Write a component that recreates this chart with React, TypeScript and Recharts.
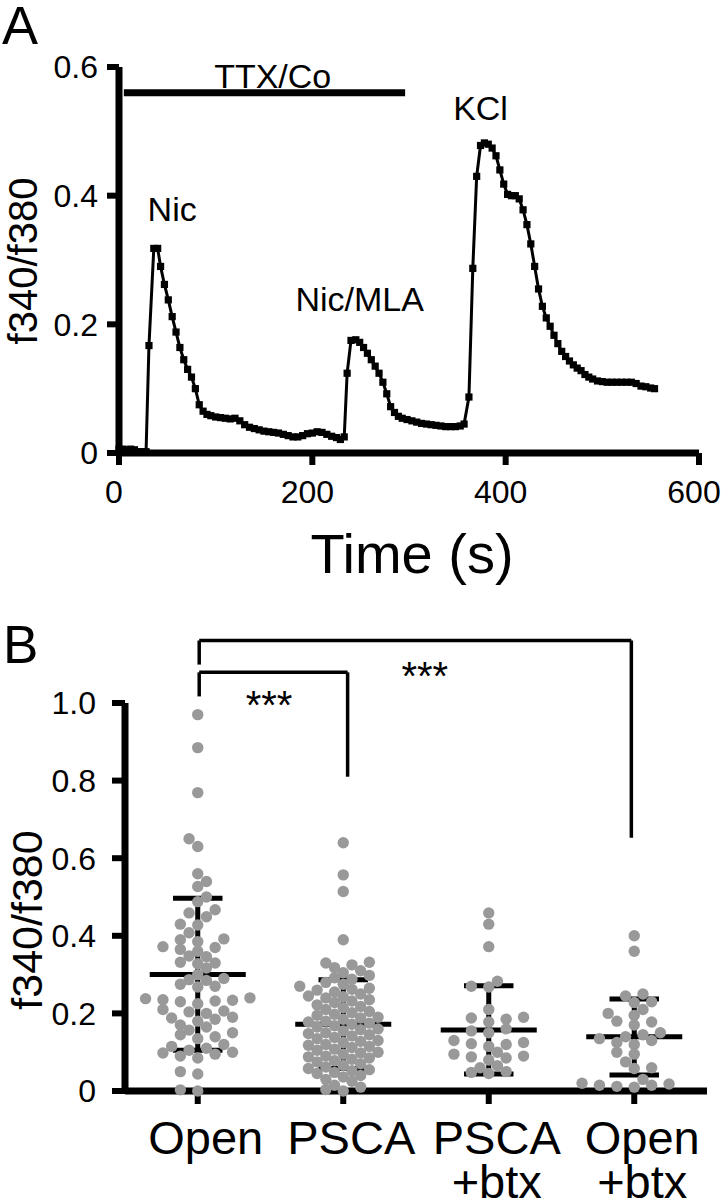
import React from 'react';
import {
  LineChart, Line, XAxis, YAxis, ReferenceLine, ReferenceDot,
  ScatterChart, Scatter,
} from 'recharts';

const FONT = '"Liberation Sans", Arial, Helvetica, sans-serif';

// ---------- Panel A: f340/f380 trace ----------
const traceTime = [
  0, 4, 8, 12, 16, 20, 24, 28, 31, 36,
  40, 43, 47, 51, 55, 59, 63, 67, 71, 75,
  79, 83, 87, 91, 95, 100, 105, 110, 115, 120,
  125, 130, 135, 140, 145, 150, 155, 160, 165, 170,
  175, 180, 185, 190, 195, 200, 205, 210, 215, 220,
  225, 229, 233, 236, 240, 245, 249, 253, 257, 261,
  265, 269, 273, 277, 281, 285, 289, 293, 298, 303,
  308, 313, 318, 323, 328, 333, 338, 343, 348, 353,
  357, 362, 366, 370, 374, 378, 382, 386, 390, 394,
  398, 402, 406, 410, 414, 418, 422, 426, 430, 434,
  438, 442, 446, 450, 454, 458, 462, 466, 470, 474,
  478, 482, 486, 490, 495, 500, 505, 510, 515, 520,
  525, 530, 535, 540, 545, 550, 554,
];
const traceRatio = [
  0.006, 0.006, 0.005, 0.006, 0.005, 0.002, 0.002, 0.002, 0.167, 0.318,
  0.318, 0.29, 0.262, 0.238, 0.212, 0.188, 0.164, 0.145, 0.13, 0.118,
  0.1, 0.075, 0.065, 0.06, 0.058, 0.056, 0.055, 0.054, 0.053, 0.054,
  0.05, 0.044, 0.04, 0.038, 0.036, 0.034, 0.033, 0.032, 0.031, 0.029,
  0.027, 0.025, 0.025, 0.027, 0.03, 0.031, 0.033, 0.032, 0.029, 0.026,
  0.024, 0.021, 0.025, 0.124, 0.175, 0.176, 0.172, 0.164, 0.155, 0.145,
  0.135, 0.124, 0.11, 0.092, 0.072, 0.063, 0.057, 0.054, 0.052, 0.05,
  0.048, 0.046, 0.045, 0.044, 0.043, 0.042, 0.041, 0.041, 0.041, 0.042,
  0.045, 0.087, 0.287, 0.43, 0.478, 0.482, 0.48, 0.474, 0.462, 0.44,
  0.418, 0.402, 0.4, 0.4, 0.395, 0.378, 0.355, 0.325, 0.29, 0.255,
  0.228, 0.21, 0.197, 0.183, 0.17, 0.158, 0.15, 0.143, 0.137, 0.132,
  0.128, 0.122, 0.118, 0.115, 0.112, 0.111, 0.11, 0.11, 0.11, 0.11,
  0.11, 0.11, 0.108, 0.104, 0.103, 0.101, 0.1,
];
const timeTicks = [0, 200, 400, 600];
const ratioTicksA = [0, 0.2, 0.4, 0.6];
const ttxBar = { start: 5, end: 296, level: 0.56 };
const traceLabels = [
  { text: 'TTX/Co', t: 159, level: 0.586 },
  { text: 'Nic', t: 55, level: 0.38 },
  { text: 'Nic/MLA', t: 249, level: 0.24 },
  { text: 'KCl', t: 374, level: 0.536 },
];

// ---------- Panel B: scatter dot plot ----------
const groupLabelLines = [['Open'], ['PSCA'], ['PSCA', '+btx'], ['Open', '+btx']];
const openValues = [
  0.97, 0.885, 0.769, 0.65, 0.63, 0.56, 0.54, 0.527, 0.5, 0.488,
  0.467, 0.459, 0.449, 0.43, 0.428, 0.408, 0.392, 0.39, 0.385, 0.372,
  0.37, 0.365, 0.36, 0.348, 0.346, 0.332, 0.33, 0.328, 0.317, 0.3,
  0.29, 0.287, 0.285, 0.275, 0.27, 0.268, 0.24, 0.238, 0.235, 0.234,
  0.232, 0.23, 0.225, 0.21, 0.206, 0.204, 0.2, 0.19, 0.188, 0.185,
  0.18, 0.17, 0.165, 0.157, 0.15, 0.145, 0.14, 0.135, 0.12, 0.115,
  0.11, 0.105, 0.1, 0.098, 0.095, 0.09, 0.085, 0.05, 0.044, 0.003, 0.0,
];
const pscaValues = [
  0.64, 0.557, 0.514, 0.39,
  0.332, 0.33, 0.325, 0.318, 0.31,
  0.305, 0.298, 0.292, 0.288,
  0.28, 0.275, 0.27, 0.265, 0.262, 0.26,
  0.255, 0.25, 0.245, 0.243, 0.24, 0.235, 0.232,
  0.228, 0.222, 0.218, 0.215, 0.21, 0.205, 0.202,
  0.198, 0.195, 0.19, 0.188, 0.185, 0.18, 0.178, 0.175, 0.172,
  0.168, 0.165, 0.16, 0.158, 0.155, 0.15, 0.148, 0.145, 0.142,
  0.138, 0.135, 0.13, 0.128, 0.125, 0.12, 0.118, 0.115, 0.112,
  0.108, 0.105, 0.1, 0.098, 0.095, 0.09, 0.088, 0.085, 0.082,
  0.078, 0.075, 0.07, 0.066, 0.062, 0.058, 0.055, 0.052,
  0.048, 0.045, 0.04, 0.036, 0.03, 0.025,
  0.015, 0.01, 0.004, 0.0,
];
const pscaBtxValues = [
  0.459, 0.43, 0.372, 0.283, 0.27, 0.268, 0.21, 0.19, 0.188, 0.185,
  0.178, 0.16, 0.155, 0.15, 0.13, 0.125, 0.122, 0.12, 0.115, 0.1,
  0.095, 0.09, 0.088, 0.085, 0.08, 0.065, 0.06, 0.05, 0.048, 0.045,
];
const openBtxValues = [
  0.4, 0.36, 0.25, 0.245, 0.23, 0.228, 0.21, 0.2, 0.195, 0.18,
  0.178, 0.17, 0.15, 0.145, 0.14, 0.135, 0.13, 0.125, 0.12, 0.1,
  0.095, 0.075, 0.06, 0.058, 0.03, 0.02, 0.018, 0.015, 0.015, 0.012, 0.01,
];
const groupMeans = [0.3, 0.172, 0.157, 0.14];
const groupSdHigh = [0.497, 0.287, 0.271, 0.237];
const groupSdLow = [0.105, 0.058, 0.044, 0.041];
const ratioTicksB = [0, 0.2, 0.4, 0.6, 0.8, 1.0];
const sigBrackets = [
  { from: 0.01, to: 1.03, top: 1.079, leftBottom: 1.017, rightBottom: 0.81, starsX: 0.49, starsY: 0.996 },
  { from: 0.01, to: 2.98, top: 1.161, leftBottom: 1.099, rightBottom: 0.653, starsX: 1.56, starsY: 1.071 },
];

// beeswarm layout (pixel scale of panel B plot)
const PX_PER_CAT = 145.5;
const PX_PER_UNIT = 387.5;
const DOT_R = 5.7;

function swarm(values: number[], center: number) {
  const step = 8.7;
  const minD = 9.6;
  const placed: { x: number; y: number }[] = [];
  const sorted = [...values].sort((a, b) => a - b);
  return sorted.map((v, idx) => {
    const py = v * PX_PER_UNIT;
    const flip = idx % 2 === 0 ? 1 : -1;
    let off = 0;
    for (let k = 0; k < 40; k++) {
      const cand = k === 0 ? 0 : (k % 2 === 1 ? 1 : -1) * flip * Math.ceil(k / 2) * step;
      const ok = placed.every(p => (p.x - cand) ** 2 + (p.y - py) ** 2 >= minD * minD);
      if (ok) { off = cand; break; }
    }
    placed.push({ x: off, y: py });
    return { x: center + off / PX_PER_CAT, y: v };
  });
}

const dotData = [
  ...swarm(openValues, 0),
  ...swarm(pscaValues, 1),
  ...swarm(pscaBtxValues, 2),
  ...swarm(openBtxValues, 3),
];

const traceData = traceTime.map((t, i) => ({ t, v: traceRatio[i] }));

const axisStyle = { stroke: '#000', strokeWidth: 7 };
const tickStyle = { stroke: '#000', strokeWidth: 6 };
const fmtRatio = (v: number) => (v === 0 ? '0' : v.toFixed(1));

const SquareDot = (props: any) => {
  const { cx, cy, index } = props;
  return <rect key={`sq-${index}`} x={cx - 3.6} y={cy - 3.6} width={7.2} height={7.2} fill="#000" />;
};

const GrayDot = (props: any) => (
  <circle cx={props.cx} cy={props.cy} r={DOT_R} fill="#999999" />
);

const TimeTick = (props: any) => {
  const { x, y, payload } = props;
  return (
    <text x={x - 5} y={y} dy="0.71em" textAnchor="middle" fontSize={32} fill="#000">{payload.value}</text>
  );
};

const CategoryTick = (props: any) => {
  const { x, y, payload } = props;
  const lines = groupLabelLines[payload.value] || [];
  return (
    <text x={x + 8} y={y + 50} textAnchor="middle" fontSize={47} fill="#000">
      {lines.map((l, i) => (
        <tspan key={i} x={x + 8} dy={i === 0 ? 0 : 44}>{l}</tspan>
      ))}
    </text>
  );
};

export default function App() {
  return (
    <div style={{ position: 'absolute', left: 0, top: 0, width: 722, height: 1200, background: '#fff', fontFamily: FONT }}>
      {/* Panel A */}
      <div style={{ position: 'absolute', left: 0, top: 0 }}>
        <LineChart width={722} height={600} data={traceData} margin={{ top: 67, right: 23, bottom: 47, left: 0 }}>
          <XAxis
            type="number" dataKey="t" domain={[0, 600]} ticks={timeTicks} height={100}
            axisLine={axisStyle} tickLine={tickStyle} tickSize={12} tickMargin={15}
            tick={(p: any) => <TimeTick {...p} />}
          />
          <YAxis
            type="number" domain={[0, 0.6]} ticks={ratioTicksA} width={119}
            axisLine={axisStyle} tickLine={tickStyle} tickSize={12} tickMargin={9}
            tick={{ fill: '#000', fontSize: 32 }} tickFormatter={fmtRatio}
          />
          <ReferenceLine
            segment={[{ x: ttxBar.start, y: ttxBar.level }, { x: ttxBar.end, y: ttxBar.level }]}
            stroke="#000" strokeWidth={7}
          />
          <Line type="linear" dataKey="v" stroke="#000" strokeWidth={3} dot={SquareDot} isAnimationActive={false} />
          {traceLabels.map(l => (
            <ReferenceDot
              key={l.text} x={l.t} y={l.level} r={0} fill="none" stroke="none" ifOverflow="visible"
              label={{ value: l.text, position: 'center', fontSize: 34, fill: '#000' }}
            />
          ))}
        </LineChart>
      </div>

      {/* Panel B */}
      <div style={{ position: 'absolute', left: 0, top: 600 }}>
        <ScatterChart width={722} height={600} margin={{ top: 103, right: 15, bottom: 0, left: 0 }}>
          <XAxis
            type="number" dataKey="x" domain={[-0.5, 3.5]} ticks={[0, 1, 2, 3]} height={109}
            axisLine={axisStyle} tickLine={tickStyle} tickSize={13} tickMargin={0}
            tick={(p: any) => <CategoryTick {...p} />}
          />
          <YAxis
            type="number" dataKey="y" domain={[0, 1]} ticks={ratioTicksB} width={125}
            axisLine={axisStyle} tickLine={tickStyle} tickSize={13} tickMargin={16}
            tick={{ fill: '#000', fontSize: 32 }} tickFormatter={fmtRatio}
          />
          <Scatter data={dotData} shape={GrayDot} isAnimationActive={false} />
          {groupMeans.map((m, i) => (
            <React.Fragment key={`stat-${i}`}>
              <ReferenceLine segment={[{ x: i - 0.33, y: m }, { x: i + 0.33, y: m }]} stroke="#000" strokeWidth={5} />
              <ReferenceLine segment={[{ x: i, y: groupSdLow[i] }, { x: i, y: groupSdHigh[i] }]} stroke="#000" strokeWidth={5} />
              <ReferenceLine segment={[{ x: i - 0.17, y: groupSdHigh[i] }, { x: i + 0.17, y: groupSdHigh[i] }]} stroke="#000" strokeWidth={5} />
              <ReferenceLine segment={[{ x: i - 0.17, y: groupSdLow[i] }, { x: i + 0.17, y: groupSdLow[i] }]} stroke="#000" strokeWidth={5} />
            </React.Fragment>
          ))}
          {sigBrackets.map((b, i) => (
            <React.Fragment key={`br-${i}`}>
              <ReferenceLine segment={[{ x: b.from, y: b.leftBottom }, { x: b.from, y: b.top }]} stroke="#000" strokeWidth={3.5} ifOverflow="visible" />
              <ReferenceLine segment={[{ x: b.from, y: b.top }, { x: b.to, y: b.top }]} stroke="#000" strokeWidth={3.5} ifOverflow="visible" />
              <ReferenceLine segment={[{ x: b.to, y: b.top }, { x: b.to, y: b.rightBottom }]} stroke="#000" strokeWidth={3.5} ifOverflow="visible" />
              <ReferenceDot
                x={b.starsX} y={b.starsY} r={0} fill="none" stroke="none" ifOverflow="visible"
                label={{ value: '***', position: 'center', fontSize: 40, fill: '#000' }}
              />
            </React.Fragment>
          ))}
        </ScatterChart>
      </div>

      {/* panel letters and axis titles */}
      <svg width={722} height={1200} style={{ position: 'absolute', left: 0, top: 0, pointerEvents: 'none' }}>
        <text x={2} y={44} fontSize={54} fill="#000">A</text>
        <text x={3} y={663} fontSize={53} fill="#000">B</text>
        <text transform="translate(37,261) rotate(-90)" textAnchor="middle" fontSize={40} fill="#000">f340/f380</text>
        <text transform="translate(42,920) rotate(-90)" textAnchor="middle" fontSize={43} fill="#000">f340/f380</text>
        <text x={412} y={573} textAnchor="middle" fontSize={56} fill="#000">Time (s)</text>
      </svg>
    </div>
  );
}
